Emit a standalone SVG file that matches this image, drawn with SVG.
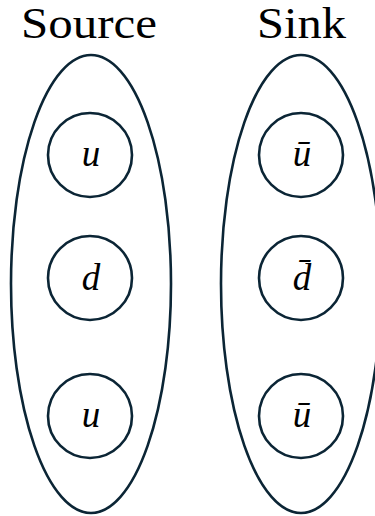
<svg xmlns="http://www.w3.org/2000/svg" width="375" height="516" viewBox="0 0 375 516">
<style>
.grp{fill:none;stroke:#0b2535;stroke-width:2.6}
.nd{fill:#fff;stroke:#0b2535;stroke-width:2.6}
.ttl{font-family:"Liberation Serif","DejaVu Serif",serif;font-size:45px;fill:#000}
.lbl{font-family:"Liberation Serif","DejaVu Serif",serif;font-style:italic;font-size:37px;fill:#000;text-anchor:middle}
</style>
<rect width="375" height="516" fill="#fff"/>
<g id="source">
<text class="ttl" x="21" y="38" textLength="136" lengthAdjust="spacingAndGlyphs">Source</text>
<ellipse class="grp" cx="91" cy="284" rx="80" ry="229"/>
</g>
<g id="sink">
<text class="ttl" x="257" y="38" textLength="89" lengthAdjust="spacingAndGlyphs">Sink</text>
<ellipse class="grp" cx="301" cy="284" rx="80" ry="229"/>
</g>
<g id="u1"><circle class="nd" cx="90" cy="155" r="42"/><text class="lbl" x="91" y="166">u</text></g>
<g id="d1"><circle class="nd" cx="90" cy="278" r="42"/><text class="lbl" x="91" y="290">d</text></g>
<g id="u2"><circle class="nd" cx="90" cy="416" r="42"/><text class="lbl" x="91" y="427">u</text></g>
<g id="ubar1"><circle class="nd" cx="301" cy="155" r="42"/><text class="lbl" x="302" y="166">ū</text></g>
<g id="dbar"><circle class="nd" cx="301" cy="278" r="42"/><text class="lbl" x="302" y="290">d̄</text></g>
<g id="ubar2"><circle class="nd" cx="301" cy="416" r="42"/><text class="lbl" x="302" y="427">ū</text></g>
<g id="connectors"/>
</svg>
